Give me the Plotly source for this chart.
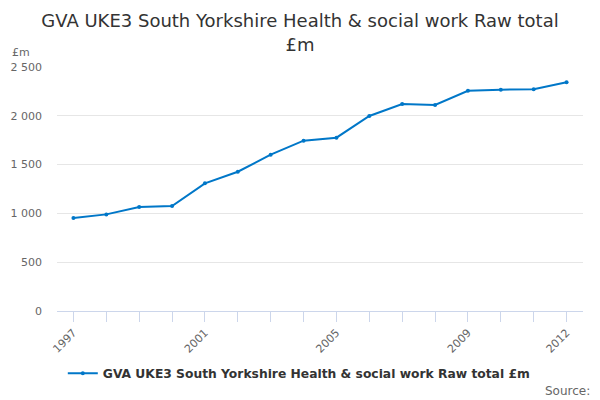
import plotly.graph_objects as go

years = list(range(1997, 2013))
gva_total = [953, 990, 1065, 1076, 1308, 1427, 1602, 1745, 1776, 1998, 2121, 2111, 2257, 2268, 2271, 2343]
x_tick_years = [1997, 2001, 2005, 2009, 2012]
y_ticks = [0, 500, 1000, 1500, 2000, 2500]
series_name = "GVA UKE3 South Yorkshire Health & social work Raw total £m"

font = "DejaVu Sans, Verdana, sans-serif"

fig = go.Figure()
fig.add_trace(go.Scatter(
    x=years, y=gva_total, name="<b>" + series_name + "</b>", mode="lines+markers",
    line=dict(color="#0077c8", width=2),
    marker=dict(color="#0077c8", size=4),
))

fig.update_layout(
    width=600, height=400,
    paper_bgcolor="white", plot_bgcolor="white",
    font=dict(family=font, color="#666666", size=11),
    separators=". ",
    margin=dict(l=57, r=17, t=67, b=89),
    title=dict(text="GVA UKE3 South Yorkshire Health & social work Raw total<br>£m",
               x=0.5, xanchor="center", y=0.932, yanchor="top",
               font=dict(size=18, color="#333333", family=font)),
    showlegend=True,
    legend=dict(orientation="h", xref="container", yref="container",
                x=0.498, xanchor="center", y=0.103, yanchor="top",
                font=dict(size=12.3, color="#333333", family=font)),
    hovermode=False,
)
fig.update_xaxes(
    range=[1996.5, 2012.5], tickvals=x_tick_years, tickangle=-45, automargin=False,
    showgrid=False, showline=True, linecolor="#ccd6eb", linewidth=1,
    ticks="outside", ticklen=10, tickcolor="#ccd6eb",
    minor=dict(dtick=1, tick0=1997, ticks="outside", ticklen=10, tickcolor="#ccd6eb", showgrid=False),
    tickfont=dict(size=11, color="#666666"), zeroline=False,
)
fig.update_yaxes(
    range=[0, 2500], tickvals=y_ticks, tickformat=",d", automargin=False,
    showgrid=True, gridcolor="#e6e6e6", zeroline=False, showline=False,
    tickfont=dict(size=11, color="#666666"), ticklabelstandoff=14,
)
fig.add_annotation(text="£m", xref="paper", yref="paper", x=-0.089, y=1.025,
                   xanchor="left", yanchor="bottom", showarrow=False,
                   font=dict(size=11, color="#666666"))
fig.add_annotation(text="Source:", xref="paper", yref="paper", x=1.018, y=-0.29,
                   xanchor="right", yanchor="top", showarrow=False,
                   font=dict(size=12, color="#666666"))

fig.write_html("out.html", config={"displayModeBar": False},
               post_script="document.body.style.margin='0';")
